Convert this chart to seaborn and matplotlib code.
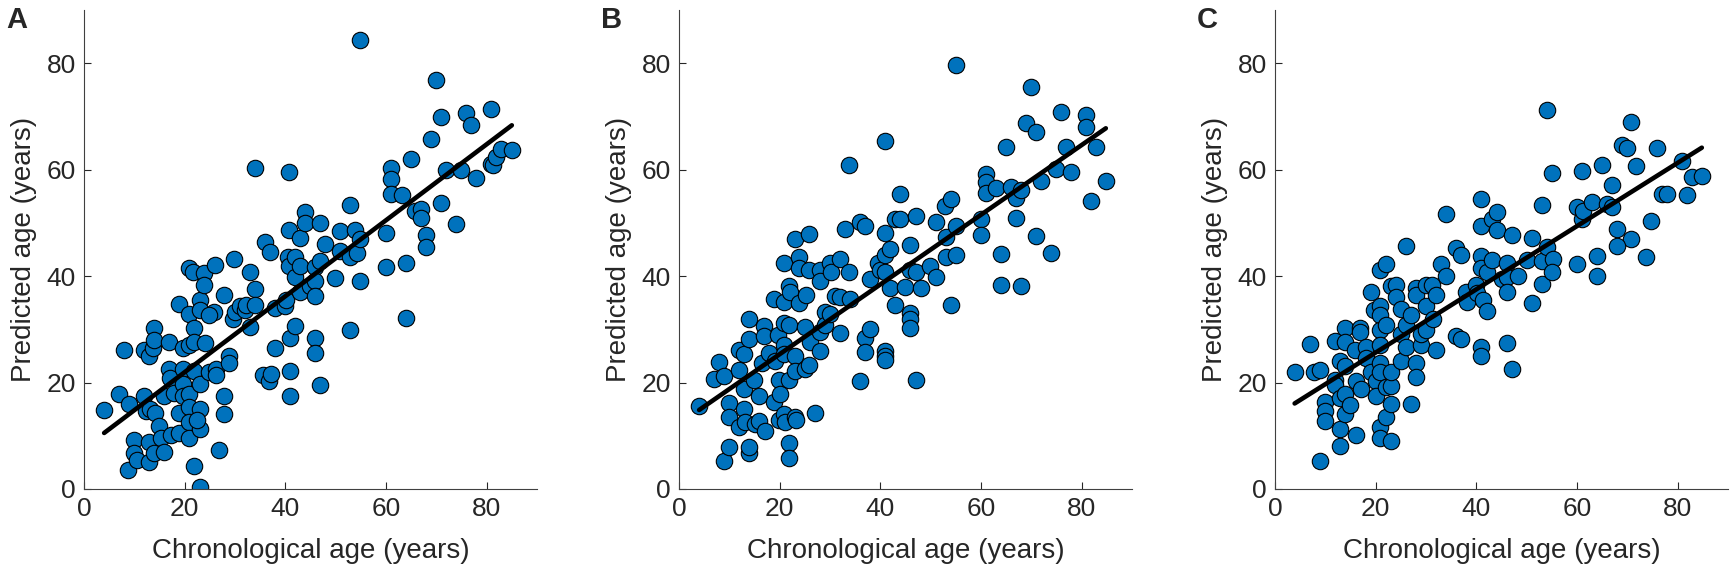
import matplotlib
matplotlib.use("Agg")
import numpy as np
import pandas as pd
import seaborn as sns
import matplotlib.pyplot as plt

# panel A
a_chron = [4.0, 7.0, 7.9, 8.9, 8.8, 10.0, 10.0, 10.5, 11.9, 12.9,
           13.8, 13.9, 13.9, 11.9, 12.3, 13.1, 14.1, 12.9, 12.9, 13.9,
           14.9, 15.2, 15.9, 15.8, 16.9, 16.9, 17.1, 17.8, 17.2, 18.9,
           18.9, 18.9, 19.7, 19.7, 19.7, 19.7, 20.9, 20.9, 20.9, 20.9,
           20.9, 20.9, 20.9, 21.7, 21.9, 21.9, 21.9, 21.9, 23.0, 23.0,
           23.1, 23.0, 23.0, 23.0, 22.4, 23.9, 23.9, 24.1, 24.9, 26.0,
           25.9, 24.9, 26.2, 26.2, 26.8, 27.9, 27.9, 27.9, 28.9, 28.9,
           29.9, 29.7, 30.0, 30.9, 32.0, 32.2, 33.0, 32.9, 33.9, 33.9,
           33.9, 36.0, 37.0, 35.6, 36.8, 37.1, 37.9, 37.9, 39.9, 40.2,
           40.8, 40.8, 40.6, 40.8, 41.0, 41.0, 41.0, 42.0, 42.0, 42.0,
           42.9, 42.9, 42.9, 43.9, 43.9, 44.9, 45.9, 45.9, 45.9, 45.9,
           45.9, 46.9, 46.9, 46.9, 47.9, 49.9, 50.9, 50.9, 52.9, 52.9,
           52.9, 53.9, 54.2, 54.9, 54.9, 54.9, 60.0, 60.0, 61.0, 61.0,
           61.0, 63.2, 63.9, 63.9, 64.9, 65.8, 66.9, 66.9, 67.9, 67.9,
           68.9, 69.9, 70.9, 70.9, 71.9, 73.9, 74.9, 75.9, 76.9, 77.9,
           80.9, 80.9, 81.3, 81.8, 82.8, 85.0]
a_pred = [14.8, 17.8, 26.2, 15.9, 3.6, 9.2, 6.7, 5.5, 26.2, 25.0,
          26.4, 30.2, 28.0, 17.4, 14.7, 15.0, 14.3, 8.8, 5.0, 6.7,
          11.9, 9.5, 7.0, 17.4, 27.7, 22.6, 20.9, 18.1, 10.2, 34.8,
          10.5, 14.3, 22.6, 19.8, 17.4, 26.4, 41.5, 32.9, 27.1, 17.8,
          15.4, 12.6, 9.5, 40.8, 30.2, 27.6, 22.2, 4.3, 0.3, 35.6,
          33.6, 19.8, 15.0, 11.2, 12.9, 40.5, 38.4, 27.4, 21.9, 42.0,
          33.3, 32.6, 22.6, 21.5, 7.4, 36.4, 17.4, 14.0, 25.0, 23.6,
          43.3, 31.9, 33.3, 34.3, 33.6, 34.6, 30.5, 40.8, 60.3, 37.6,
          34.6, 46.5, 44.5, 21.5, 20.2, 21.7, 26.5, 34.1, 34.3, 35.5,
          59.6, 48.7, 43.6, 41.9, 22.2, 17.4, 28.4, 30.6, 43.6, 39.9,
          47.2, 41.9, 37.0, 52.0, 50.0, 38.1, 41.7, 39.1, 36.2, 28.4,
          25.5, 50.0, 42.9, 19.5, 46.1, 39.7, 48.4, 44.8, 53.4, 43.6,
          29.9, 48.7, 44.3, 47.0, 39.0, 84.4, 48.1, 41.7, 60.4, 58.2,
          55.4, 55.3, 42.4, 32.2, 62.0, 52.2, 52.7, 51.0, 47.7, 45.5,
          65.7, 76.8, 69.9, 53.7, 60.0, 49.8, 60.0, 70.6, 68.4, 58.5,
          61.0, 71.4, 60.9, 62.3, 63.8, 63.7]

# panel B
b_chron = [4.0, 6.9, 8.0, 8.9, 8.9, 9.9, 9.9, 9.9, 11.9, 11.9,
           11.9, 12.9, 12.9, 12.9, 13.1, 13.9, 13.9, 13.9, 13.9, 14.9,
           15.1, 15.9, 15.9, 16.4, 16.9, 16.9, 17.1, 17.9, 18.9, 18.9,
           19.0, 19.7, 19.9, 20.0, 19.9, 20.9, 20.9, 20.9, 20.9, 20.9,
           20.9, 21.0, 21.9, 21.9, 21.9, 21.9, 21.9, 22.0, 23.0, 23.0,
           23.0, 23.0, 23.2, 23.9, 23.9, 23.9, 25.0, 25.0, 25.3, 25.9,
           25.9, 25.9, 26.0, 27.0, 28.0, 28.0, 28.0, 28.0, 29.0, 29.0,
           30.0, 30.1, 30.0, 31.0, 32.0, 32.0, 32.0, 33.0, 33.8, 33.8,
           34.0, 36.0, 36.0, 37.0, 37.0, 37.0, 38.0, 38.0, 39.6, 39.9,
           40.9, 40.9, 40.9, 40.9, 40.9, 40.9, 40.9, 41.9, 41.9, 42.9,
           42.9, 43.9, 43.9, 44.9, 45.9, 45.9, 45.9, 45.9, 45.9, 47.1,
           47.1, 47.1, 48.0, 49.9, 51.0, 51.0, 52.9, 53.0, 53.0, 54.0,
           54.0, 55.0, 55.0, 55.0, 60.0, 60.0, 61.0, 61.0, 61.0, 63.0,
           64.0, 64.0, 65.0, 65.9, 67.0, 67.0, 67.9, 68.0, 68.9, 69.9,
           70.9, 70.9, 71.9, 73.9, 74.9, 75.9, 80.9, 80.9, 76.9, 82.8,
           77.9, 84.8, 81.8]
b_pred = [15.6, 20.7, 23.8, 21.2, 5.2, 7.8, 16.2, 13.5, 22.4, 26.2,
          11.6, 25.3, 18.7, 15.0, 12.6, 31.9, 28.1, 6.7, 7.8, 20.5,
          12.3, 17.4, 12.8, 23.6, 30.6, 28.8, 10.9, 25.5, 35.7, 16.4,
          24.0, 28.9, 20.5, 17.8, 12.9, 42.5, 35.1, 31.2, 27.1, 25.3,
          14.0, 12.6, 8.6, 5.9, 30.8, 20.5, 38.1, 37.0, 47.0, 25.0,
          22.2, 13.6, 12.9, 43.6, 41.5, 35.0, 30.5, 22.6, 36.4, 47.9,
          41.2, 23.3, 27.7, 14.3, 26.0, 41.2, 39.1, 29.5, 33.3, 30.8,
          42.5, 40.8, 32.9, 36.2, 43.2, 36.0, 29.3, 48.9, 60.8, 40.8,
          35.7, 50.1, 20.3, 49.4, 28.4, 25.7, 30.0, 39.4, 42.5, 41.2,
          65.4, 48.1, 43.9, 40.8, 26.0, 25.0, 24.3, 45.0, 37.7, 34.6,
          50.8, 55.5, 50.8, 37.9, 45.8, 41.2, 33.0, 31.9, 30.3, 51.3,
          40.8, 20.5, 37.7, 41.9, 50.1, 39.9, 53.2, 47.4, 43.6, 54.4,
          34.6, 79.7, 49.4, 43.9, 50.8, 47.8, 59.1, 57.7, 55.6, 56.5,
          44.1, 38.3, 64.2, 56.7, 54.6, 50.9, 56.1, 38.2, 68.7, 75.6,
          67.1, 47.5, 57.8, 44.3, 60.1, 70.9, 70.3, 68.1, 64.3, 64.3,
          59.5, 57.9, 54.2]

# panel C
c_chron = [3.9, 6.9, 7.8, 8.9, 8.9, 9.9, 9.9, 9.9, 11.9, 11.9,
           11.9, 12.9, 12.9, 12.9, 12.9, 13.9, 13.9, 13.9, 13.9, 14.0,
           15.0, 15.9, 16.0, 16.0, 16.9, 16.9, 17.0, 18.0, 18.0, 19.0,
           19.0, 19.7, 20.0, 20.0, 20.9, 20.9, 20.9, 20.9, 20.9, 20.9,
           20.9, 20.9, 20.9, 22.0, 22.0, 22.0, 22.0, 23.0, 23.0, 23.0,
           23.0, 23.0, 24.0, 24.0, 25.0, 25.0, 25.0, 26.0, 26.0, 26.0,
           27.0, 27.0, 28.0, 28.0, 28.0, 28.0, 29.0, 29.0, 30.0, 30.0,
           30.0, 31.1, 31.3, 32.0, 32.0, 33.0, 34.0, 34.0, 35.9, 35.9,
           36.9, 36.9, 37.9, 38.1, 39.9, 40.1, 40.9, 40.9, 40.9, 40.9,
           40.9, 40.9, 41.3, 42.1, 42.1, 43.1, 43.1, 44.1, 44.1, 45.0,
           46.0, 46.0, 46.0, 46.0, 47.0, 47.0, 48.2, 50.0, 51.0, 51.0,
           53.0, 53.0, 53.0, 54.0, 54.0, 55.0, 55.3, 55.0, 60.0, 60.0,
           61.0, 61.0, 61.2, 63.0, 64.0, 64.0, 65.0, 70.8, 68.9, 70.0,
           75.8, 71.8, 66.9, 80.8, 82.8, 84.8, 76.8, 77.8, 81.8, 65.9,
           66.9, 67.9, 70.8, 74.8, 67.9, 73.8]
c_pred = [21.9, 27.3, 21.9, 22.4, 5.2, 16.4, 14.7, 12.8, 27.9, 20.5,
          19.5, 24.0, 17.1, 11.2, 8.1, 30.3, 27.7, 23.1, 17.8, 14.1,
          15.7, 26.2, 20.3, 10.2, 30.3, 29.5, 18.8, 26.7, 24.6, 37.0,
          22.0, 33.6, 20.2, 17.4, 41.2, 34.3, 32.6, 29.8, 27.1, 23.6,
          21.9, 11.6, 9.6, 42.2, 30.8, 19.1, 13.6, 38.1, 19.3, 16.0,
          21.9, 9.0, 38.4, 36.0, 33.9, 24.0, 29.1, 45.6, 30.8, 26.7,
          16.0, 32.6, 37.7, 36.4, 23.6, 21.1, 27.1, 29.1, 34.3, 38.4,
          29.8, 38.4, 31.9, 36.5, 26.2, 42.2, 40.0, 51.7, 45.3, 28.8,
          43.9, 28.1, 37.0, 35.1, 38.4, 36.8, 54.4, 49.4, 43.7, 41.5,
          26.7, 25.0, 35.5, 40.8, 33.5, 43.1, 50.8, 52.0, 48.6, 39.4,
          42.5, 39.8, 37.0, 27.4, 22.6, 47.7, 40.1, 43.1, 47.2, 35.0,
          53.4, 42.9, 38.6, 71.3, 45.4, 59.4, 43.2, 40.8, 53.0, 42.2,
          59.8, 50.8, 52.2, 53.9, 43.7, 40.1, 60.8, 69.0, 64.6, 64.1,
          64.0, 60.6, 57.1, 61.6, 58.7, 58.8, 55.5, 55.5, 55.2, 53.6,
          53.0, 48.8, 47.0, 50.4, 45.6, 43.5]

ticks = [0, 20, 40, 60, 80]

sns.set_style("ticks")
plt.rcParams['font.family'] = ['Liberation Sans', 'DejaVu Sans']

W, H = 1733, 573
fig = plt.figure(figsize=(W / 100, H / 100), dpi=100)

panels = [("A", a_chron, a_pred, 84),
          ("B", b_chron, b_pred, 679),
          ("C", c_chron, c_pred, 1275)]

for letter, xs, ys, left in panels:
    ax = fig.add_axes([left / W, 84 / H, 453 / W, 479 / H])
    df = pd.DataFrame({"chron": xs, "pred": ys})
    sns.scatterplot(data=df, x="chron", y="pred", ax=ax, s=140,
                    color="#0072BD", edgecolor="black", linewidth=0.8,
                    zorder=2)
    sns.regplot(data=df, x="chron", y="pred", ax=ax, scatter=False, ci=None,
                color="black", line_kws=dict(lw=3.3, zorder=3))
    ax.set_xlim(0, 90)
    ax.set_ylim(0, 90)
    ax.set_xticks(ticks)
    ax.set_yticks(ticks)
    ax.set_xlabel("Chronological age (years)", fontsize=20, color="#262626",
                  labelpad=12)
    ax.set_ylabel("Predicted age (years)", fontsize=20, color="#262626",
                  labelpad=7)
    ax.tick_params(direction="in", length=5, labelsize=19, pad=6,
                   colors="#262626", width=0.8)
    sns.despine(ax=ax)
    for side in ("left", "bottom"):
        ax.spines[side].set_color("#404040")
        ax.spines[side].set_linewidth(0.8)
    fig.text((left - 78) / W, 1 - 6 / H, letter, fontsize=21,
             fontweight="bold", va="top", ha="left")

fig.savefig("out.png", dpi=100)
